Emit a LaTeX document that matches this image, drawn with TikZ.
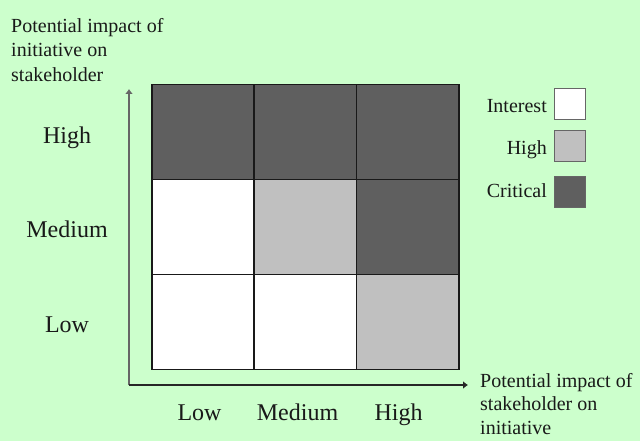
\documentclass[tikz,border=0pt]{standalone}
\usepackage{fontspec}
\setmainfont{Liberation Serif}
\usepackage{xcolor}
\usepackage{tikz}
\usetikzlibrary{arrows.meta, positioning}

\definecolor{bgmint}{HTML}{CCFFCC}
\definecolor{critgray}{HTML}{5F5F5F}
\definecolor{highgray}{HTML}{C0C0C0}

\begin{document}
\begin{tikzpicture}[
    x=1pt, y=-1pt,
    cell/.style = {rectangle, draw=black!90, line width=1.6pt, minimum width=102.4pt, minimum height=94.8pt, inner sep=0pt},
    keybox/.style = {rectangle, draw=black!60, line width=1pt, minimum size=31pt, inner sep=0pt},
    axislabel/.style = {font=\fontsize{24}{28}\selectfont, text=black!90, inner sep=0pt, anchor=base},
    note/.style = {font=\fontsize{20}{24.5}\selectfont, text=black!90, align=left, inner sep=0pt, anchor=north west},
    keylabel/.style = {font=\fontsize{20}{24}\selectfont, text=black!90, inner sep=0pt, anchor=base east}
]

\fill[bgmint] (0, 0) rectangle (640, 441);
\useasboundingbox (0, 0) rectangle (640, 441);

\node [note] (ytitle) at (11, 18) {Potential impact of\\initiative on\\stakeholder};

% the grid, top row first
\node [cell, fill=critgray] (hl) at (203, 132.1) {};
\node [cell, fill=critgray] (hm) at (305.3, 132.1) {};
\node [cell, fill=critgray] (hh) at (407.7, 132.1) {};

\node [cell, fill=white] (ml) at (203, 227) {};
\node [cell, fill=highgray] (mm) at (305.3, 227) {};
\node [cell, fill=critgray] (mh) at (407.7, 227) {};

\node [cell, fill=white] (ll) at (203, 321.9) {};
\node [cell, fill=white] (lm) at (305.3, 321.9) {};
\node [cell, fill=highgray] (lh) at (407.7, 321.9) {};

% axes
\coordinate (origin) at (129, 385);
\coordinate (ytip) at (129, 89);
\coordinate (xtip) at (468, 385);

\draw[-{Latex[length=5pt, width=8pt]}, line width=2.2pt, black!60] (origin) -- (ytip);
\draw[-{Latex[length=5pt, width=8pt]}, line width=2.2pt, black!85] (origin) -- (xtip);

\node [axislabel] (yhigh) at (67, 143) {High};
\node [axislabel] (ymed) at (67, 237) {Medium};
\node [axislabel] (ylow) at (67, 332) {Low};

\node [axislabel] (xlow) at (199.5, 420) {Low};
\node [axislabel] (xmed) at (297.5, 420) {Medium};
\node [axislabel] (xhigh) at (398.5, 420) {High};

\node [note, font=\fontsize{20}{23.5}\selectfont] (xtitle) at (480, 373) {Potential impact of\\stakeholder on\\initiative};

% legend
\node [keybox, fill=white] (kint) at (570, 104) {};
\node [keybox, fill=highgray] (khigh) at (570, 146.5) {};
\node [keybox, fill=critgray] (kcrit) at (570, 192) {};

\node [keylabel] (lint) at (547, 113) {Interest};
\node [keylabel] (lhigh) at (547, 155) {High};
\node [keylabel] (lcrit) at (547, 197) {Critical};

\end{tikzpicture}
\end{document}
